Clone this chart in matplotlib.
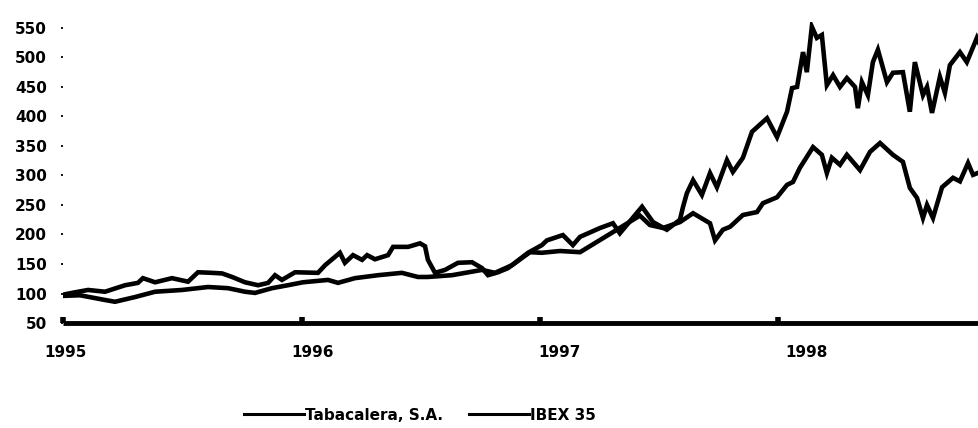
import matplotlib
matplotlib.use("Agg")
import matplotlib.pyplot as plt

#%% Index levels, base 100 at start of 1995 (decimal year, level)
taba_t = [1995.000, 1995.050, 1995.105, 1995.176, 1995.260, 1995.314, 1995.335, 1995.386,
          1995.457, 1995.524, 1995.566, 1995.625, 1995.667, 1995.709, 1995.763, 1995.818,
          1995.860, 1995.889, 1995.918, 1995.973, 1996.069, 1996.099, 1996.161, 1996.182,
          1996.216, 1996.254, 1996.275, 1996.308, 1996.363, 1996.384, 1996.447, 1996.497,
          1996.518, 1996.530, 1996.560, 1996.602, 1996.656, 1996.715, 1996.757, 1996.782,
          1996.824, 1996.866, 1996.950, 1997.008, 1997.029, 1997.096, 1997.138, 1997.168,
          1997.252, 1997.306, 1997.335, 1997.428, 1997.474, 1997.532, 1997.587, 1997.600,
          1997.616, 1997.642, 1997.679, 1997.713, 1997.742, 1997.784, 1997.809, 1997.851,
          1997.889, 1997.922, 1997.952, 1997.994, 1998.036, 1998.057, 1998.078, 1998.103,
          1998.119, 1998.140, 1998.161, 1998.182, 1998.203, 1998.229, 1998.258, 1998.287,
          1998.321, 1998.333, 1998.350, 1998.375, 1998.396, 1998.417, 1998.455, 1998.480,
          1998.522, 1998.551, 1998.572, 1998.606, 1998.623, 1998.644, 1998.677, 1998.698,
          1998.719, 1998.761, 1998.790, 1998.832, 1998.841]
taba_v = [98, 102, 106, 103, 114, 118, 126, 119,
          126, 120, 136, 135, 134, 128, 119, 114,
          118, 131, 123, 136, 135, 148, 169, 152,
          165, 157, 165, 158, 165, 179, 179, 185,
          180, 157, 135, 140, 152, 153, 143, 131,
          136, 143, 169, 182, 190, 199, 182, 196,
          211, 219, 202, 247, 221, 208, 225, 247,
          270, 292, 267, 304, 280, 326, 306, 330,
          374, 386, 397, 365, 408, 448, 450, 509,
          475, 552, 533, 538, 453, 470, 450, 465,
          450, 414, 458, 436, 492, 513, 458, 474,
          475, 408, 492, 436, 450, 406, 467, 440,
          487, 509, 492, 533, 525]

ibex_t = [1995.000, 1995.071, 1995.176, 1995.218, 1995.302, 1995.386, 1995.499, 1995.608,
          1995.692, 1995.763, 1995.805, 1995.876, 1995.943, 1996.006, 1996.111, 1996.153,
          1996.224, 1996.321, 1996.421, 1996.488, 1996.530, 1996.631, 1996.757, 1996.811,
          1996.883, 1996.958, 1997.008, 1997.084, 1997.168, 1997.306, 1997.419, 1997.461,
          1997.516, 1997.587, 1997.642, 1997.713, 1997.734, 1997.767, 1997.797, 1997.851,
          1997.910, 1997.935, 1997.994, 1998.036, 1998.061, 1998.090, 1998.145, 1998.182,
          1998.203, 1998.224, 1998.258, 1998.287, 1998.342, 1998.384, 1998.426, 1998.480,
          1998.522, 1998.551, 1998.581, 1998.606, 1998.623, 1998.648, 1998.686, 1998.732,
          1998.761, 1998.795, 1998.816, 1998.841]
ibex_v = [96, 97, 89, 86, 94, 103, 106, 111,
          109, 103, 101, 109, 114, 119, 123, 118,
          126, 131, 135, 128, 128, 131, 140, 135,
          148, 170, 169, 172, 170, 204, 232, 216,
          211, 221, 236, 219, 190, 208, 213, 233,
          238, 253, 263, 284, 289, 313, 348, 335,
          304, 330, 318, 335, 309, 340, 355, 335,
          323, 279, 262, 228, 250, 228, 280, 296,
          290, 321, 301, 305]

years = [1995, 1996, 1997, 1998]
year_labels = ['1995', '1996', '1997', '1998']
yticks = [50, 100, 150, 200, 250, 300, 350, 400, 450, 500, 550]

plt.rcParams['font.family'] = ['DejaVu Sans']
plt.rcParams['font.weight'] = 'bold'
plt.rcParams['font.size'] = 11

fig = plt.figure(figsize=(9.79, 4.28), dpi=100)
ax = fig.add_axes([0.0644, 0.2453, 0.9356, 0.7033])

ax.plot(taba_t, taba_v, color='black', lw=3.3, solid_joinstyle='miter', label='Tabacalera, S.A.')
ax.plot(ibex_t, ibex_v, color='black', lw=3.3, solid_joinstyle='miter', label='IBEX 35')

ax.set_xlim(1995.0, 1998.841)
ax.set_ylim(50, 560)

for s in ['top', 'right', 'left']:
    ax.spines[s].set_visible(False)
ax.spines['bottom'].set_linewidth(3.5)
ax.spines['bottom'].set_capstyle('butt')

ax.set_yticks(yticks)
ax.tick_params(axis='y', length=1.5, width=1.3, pad=10)

# year marks sit on the axis, labels are drawn a little to the right of them
ax.set_xticks(years, minor=True)
ax.tick_params(axis='x', which='minor', direction='in', length=4, width=4)
ax.set_xticks([y + 0.01 + 0.036 * i for i, y in enumerate(years)], year_labels)
ax.tick_params(axis='x', which='major', length=0, pad=16)

leg = fig.legend(loc='center', bbox_to_anchor=(420 / 979, 1 - 415 / 428), ncol=2, frameon=False,
                 handlelength=3.9, handletextpad=0.1, columnspacing=1.7)
for h in leg.get_lines():
    h.set_linewidth(2.2)

plt.savefig('out.png', dpi=100)
